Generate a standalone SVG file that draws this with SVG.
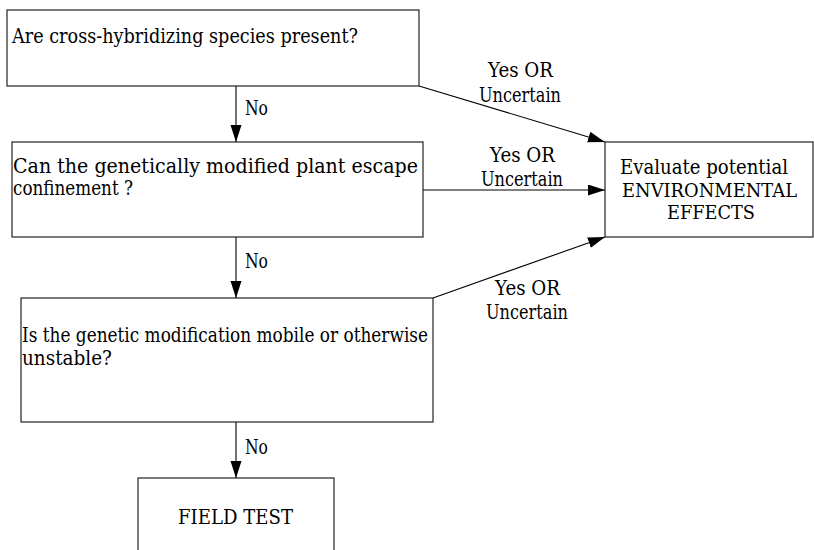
<svg xmlns="http://www.w3.org/2000/svg" width="814" height="550" viewBox="0 0 814 550">
<style>
.box{fill:#fff;stroke:#222;stroke-width:1.2}
text{font-family:'DejaVu Serif','Liberation Serif',serif;font-size:20.5px;fill:#000}
.ln{stroke:#000;stroke-width:1.1;fill:none}
.cap{font-size:18px}
</style>
<defs>
<marker id="ah" markerUnits="userSpaceOnUse" markerWidth="18" markerHeight="12" refX="17" refY="5.5" orient="auto">
<path d="M0,0 L17,5.5 L0,11 z" fill="#000"/>
</marker>
</defs>
<rect width="814" height="550" fill="#fff"/>
<g id="connectors">
<line class="ln" x1="236" y1="86" x2="236" y2="142" marker-end="url(#ah)"/>
<line class="ln" x1="236" y1="237" x2="236" y2="298" marker-end="url(#ah)"/>
<line class="ln" x1="236" y1="422" x2="236" y2="478" marker-end="url(#ah)"/>
<line class="ln" x1="419" y1="86" x2="605" y2="142" marker-end="url(#ah)"/>
<line class="ln" x1="423" y1="190" x2="605" y2="190" marker-end="url(#ah)"/>
<line class="ln" x1="433" y1="298" x2="605" y2="237" marker-end="url(#ah)"/>
<text x="245" y="115" textLength="23" lengthAdjust="spacingAndGlyphs">No</text>
<text x="245" y="268" textLength="23" lengthAdjust="spacingAndGlyphs">No</text>
<text x="245" y="454" textLength="23" lengthAdjust="spacingAndGlyphs">No</text>
<text x="488" y="77" textLength="65" lengthAdjust="spacingAndGlyphs">Yes OR</text>
<text x="479" y="102" textLength="82" lengthAdjust="spacingAndGlyphs">Uncertain</text>
<text x="490" y="162" textLength="65" lengthAdjust="spacingAndGlyphs">Yes OR</text>
<text x="481" y="186" textLength="82" lengthAdjust="spacingAndGlyphs">Uncertain</text>
<text x="495" y="295" textLength="65" lengthAdjust="spacingAndGlyphs">Yes OR</text>
<text x="486" y="319" textLength="82" lengthAdjust="spacingAndGlyphs">Uncertain</text>
</g>
<g id="q1">
<rect class="box" x="7" y="10" width="412" height="76"/>
<text x="12" y="43" textLength="346" lengthAdjust="spacingAndGlyphs">Are cross-hybridizing species present?</text>
</g>
<g id="q2">
<rect class="box" x="12" y="142" width="411" height="95"/>
<text x="13" y="173" textLength="405" lengthAdjust="spacingAndGlyphs">Can the genetically modified plant escape</text>
<text x="13" y="195" textLength="120" lengthAdjust="spacingAndGlyphs">confinement ?</text>
</g>
<g id="q3">
<rect class="box" x="21" y="298" width="412" height="124"/>
<text x="22" y="342" textLength="406" lengthAdjust="spacingAndGlyphs">Is the genetic modification mobile or otherwise</text>
<text x="22" y="365" textLength="90" lengthAdjust="spacingAndGlyphs">unstable?</text>
</g>
<g id="env">
<rect class="box" x="605" y="142" width="208" height="95"/>
<text x="620" y="174" textLength="168" lengthAdjust="spacingAndGlyphs">Evaluate potential</text>
<text class="cap" x="622" y="197" textLength="175" lengthAdjust="spacingAndGlyphs">ENVIRONMENTAL</text>
<text class="cap" x="667" y="219" textLength="88" lengthAdjust="spacingAndGlyphs">EFFECTS</text>
</g>
<g id="field">
<rect class="box" x="138" y="478" width="196" height="90"/>
<text x="178" y="524" textLength="115" lengthAdjust="spacingAndGlyphs">FIELD TEST</text>
</g>
</svg>
